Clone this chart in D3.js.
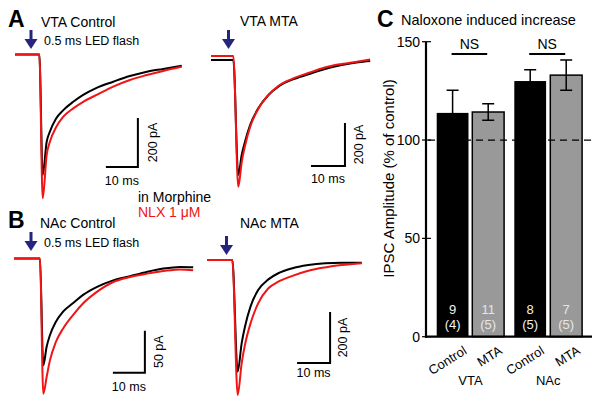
<!DOCTYPE html>
<html>
<head>
<meta charset="utf-8">
<script src="https://cdn.jsdelivr.net/npm/d3@7"></script>
<style>
  html, body { margin: 0; padding: 0; background: #fff; }
  svg { display: block; font-family: "Liberation Sans", Arial, Helvetica, sans-serif; }
</style>
</head>
<body>
<svg id="chart" width="601" height="407"></svg>
<script>
// ---------------- DATA ----------------
// Traces: time (ms) and current (pA); black = in Morphine, red = NLX 1 µM
const vtaCtrlTime     = [0, 7.6, 8.66, 9.9, 10.9, 12.8, 15.1, 18.2, 21.3, 25.5, 30.7, 35.9, 41.2, 46.3, 52.1];
const vtaCtrlMorphine = [0, 0, -492, -356, -315, -262, -227, -193, -165, -136, -111, -88, -70, -59, -46];
const vtaCtrlNLX      = [0, 0, -587, -410, -356, -298, -254, -220, -193, -165, -131, -104, -84, -67, -50];

const vtaMtaTime      = [0, 6.56, 8.03, 9.03, 10.0, 11.5, 13.9, 16.9, 19.8, 23.7, 28.6, 33.5, 38.4, 43.3, 46.8];
const vtaMtaMorphine  = [-9, -9, -544, -451, -389, -312, -234, -172, -133, -102, -76, -51, -33, -20, -14];
const vtaMtaNLX       = [9, 9, -599, -484, -409, -321, -237, -172, -130, -98, -70, -44, -28, -16, -7];

const nacCtrlTime     = [0, 8.1, 9.16, 10.2, 11.25, 13.0, 15.4, 18.5, 21.7, 25.8, 31.0, 36.25, 41.5, 46.7, 51.9, 56.0];
const nacCtrlMorphine = [0, 0, -127, -105, -91, -76, -63, -53, -43, -34, -26, -21, -16, -12, -10, -10.5];
const nacCtrlNLX      = [0, 0, -161, -141, -121, -100, -83, -67, -53, -40, -28, -22, -18, -15, -13, -14];

const nacMtaTime      = [0, 7.67, 9.3, 10.5, 11.5, 13.2, 15.5, 18.6, 21.6, 25.7, 30.7, 35.8, 40.8, 46.9];
const nacMtaMorphine  = [0, 0, -438, -327, -262, -182, -118, -76, -52, -33, -20, -13, -11, -11];
const nacMtaNLX       = [0, 0, -529, -405, -333, -248, -170, -111, -85, -63, -42, -29, -20, -13];

const traceTitles = ["VTA Control", "VTA MTA", "NAc Control", "NAc MTA"];
const scaleBarPA  = [200, 200, 50, 200];

// Panel C: bar chart
const barCategories = ["Control", "MTA", "Control", "MTA"];
const barRegions    = ["VTA", "NAc"];
const barMeans      = [113.8, 114.25, 130.0, 133.0];
const barErrors     = [11.5, 4.25, 5.8, 7.7];
const barN          = ["9", "11", "8", "7"];
const barAnimals    = ["(4)", "(5)", "(5)", "(5)"];
const yTicks        = [0, 50, 100, 150];

// ---------------- DRAW ----------------
const svg = d3.select("#chart");
const FONT = "14px";
const RED = "#f01414";
const NAVY = "#25257f";

// layout of each trace panel (pixel positions)
const panels = [
  {time: vtaCtrlTime, black: vtaCtrlMorphine, red: vtaCtrlNLX, x0: 15, pxMs: 3.2, y0: 54.5, pxPA: 0.245,
   barT: 38.4, barI: -459, titleX: 41, titleY: 27, arrowX: 31, arrowY: 30, flash: true, flashY: 45,
   tenY: 185, paX: 157},
  {time: vtaMtaTime, black: vtaMtaMorphine, red: vtaMtaNLX, x0: 211, pxMs: 3.4, y0: 58, pxPA: 0.215,
   barT: 39.4, barI: -502, titleX: 240, titleY: 26, arrowX: 228.5, arrowY: 30, flash: false,
   tenY: 182.5, paX: 363},
  {time: nacCtrlTime, black: nacCtrlMorphine, red: nacCtrlNLX, x0: 14, pxMs: 3.2, y0: 258.5, pxPA: 0.84,
   barT: 40.9, barI: -136, titleX: 40, titleY: 228, arrowX: 31, arrowY: 232, flash: true, flashY: 246.5,
   tenY: 391, paX: 163},
  {time: nacMtaTime, black: nacMtaMorphine, red: nacMtaNLX, x0: 207, pxMs: 3.3, y0: 260, pxPA: 0.255,
   barT: 37.3, barI: -404, titleX: 240, titleY: 228, arrowX: 226.5, arrowY: 236, flash: false,
   tenY: 377, paX: 346.5}
];

panels.forEach((p, i) => {
  const x = d3.scaleLinear().domain([0, 10]).range([p.x0, p.x0 + 10 * p.pxMs]);
  const y = d3.scaleLinear().domain([0, -100]).range([p.y0, p.y0 + 100 * p.pxPA]);
  const line = d3.line().x(d => x(d[0])).y(d => y(d[1])).curve(d3.curveMonotoneX);
  const g = svg.append("g");

  g.append("path").datum(p.time.map((t, k) => [t, p.black[k]]))
    .attr("d", line).attr("fill", "none").attr("stroke", "#000").attr("stroke-width", 2);
  g.append("path").datum(p.time.map((t, k) => [t, p.red[k]]))
    .attr("d", line).attr("fill", "none").attr("stroke", RED).attr("stroke-width", 2);

  // title
  g.append("text").attr("x", p.titleX).attr("y", p.titleY).attr("font-size", FONT).text(traceTitles[i]);
  if (p.flash) {
    g.append("text").attr("x", 44).attr("y", p.flashY).attr("font-size", "12.5px").text("0.5 ms LED flash");
  }
  // arrow
  const ax = p.arrowX, ay = p.arrowY;
  g.append("rect").attr("x", ax - 1.5).attr("y", ay).attr("width", 3).attr("height", 11).attr("fill", NAVY);
  g.append("path").attr("d", `M${ax - 6.5},${ay + 9} L${ax + 6.5},${ay + 9} L${ax},${ay + 19} Z`).attr("fill", NAVY);

  // scale bar
  const cx = x(p.barT), cy = y(p.barI);
  g.append("path")
    .attr("d", `M${x(p.barT - 10)},${cy} L${cx},${cy} L${cx},${y(p.barI + scaleBarPA[i])}`)
    .attr("fill", "none").attr("stroke", "#000").attr("stroke-width", 2);
  g.append("text").attr("x", (x(p.barT - 10) + cx) / 2).attr("y", p.tenY)
    .attr("text-anchor", "middle").attr("font-size", "12.5px").text("10 ms");
  const my = (cy + y(p.barI + scaleBarPA[i])) / 2;
  g.append("text").attr("transform", `translate(${p.paX},${my}) rotate(-90)`)
    .attr("text-anchor", "middle").attr("font-size", "12.5px").text(scaleBarPA[i] + " pA");
});

// legend
svg.append("text").attr("x", 138).attr("y", 202).attr("font-size", FONT).text("in Morphine");
svg.append("text").attr("x", 138).attr("y", 217).attr("font-size", FONT).attr("fill", RED).text("NLX 1 \u03BCM");

// panel letters
[["A", 8, 27], ["B", 8, 228], ["C", 377, 27]].forEach(([t, lx, ly]) => {
  svg.append("text").attr("x", lx).attr("y", ly).attr("font-size", "23px").attr("font-weight", "bold").text(t);
});

// ---------------- PANEL C ----------------
svg.append("text").attr("x", 401).attr("y", 25).attr("font-size", "14.5px").text("Naloxone induced increase");

const yC = d3.scaleLinear().domain([0, 150]).range([336.7, 41.7]);
const barLefts = [436.7, 472.3, 514.3, 550.3];
const barW = 31.8;
const xC = d3.scaleOrdinal().domain(d3.range(4)).range(barLefts);

const gC = svg.append("g");
barMeans.forEach((m, i) => {
  const gray = i % 2 === 1;
  gC.append("rect").attr("x", xC(i)).attr("y", yC(m)).attr("width", barW).attr("height", yC(0) - yC(m))
    .attr("fill", gray ? "#999999" : "#000").attr("stroke", "#000").attr("stroke-width", gray ? 1.5 : 0);
});
// dashed 100% line
gC.append("line").attr("x1", 428).attr("x2", 592).attr("y1", yC(100)).attr("y2", yC(100))
  .attr("stroke", "#000").attr("stroke-width", 1.3).attr("stroke-dasharray", "7,5");
// error bars
barMeans.forEach((m, i) => {
  const cx = xC(i) + barW / 2;
  const e = barErrors[i];
  gC.append("path")
    .attr("d", `M${cx},${yC(m - e)} L${cx},${yC(m + e)} M${cx - 6},${yC(m + e)} L${cx + 6},${yC(m + e)} M${cx - 6},${yC(m - e)} L${cx + 6},${yC(m - e)}`)
    .attr("stroke", "#000").attr("stroke-width", 1.5).attr("fill", "none");
  gC.append("text").attr("x", cx).attr("y", 314).attr("text-anchor", "middle").attr("font-size", "13px")
    .attr("fill", i % 2 ? "#e6e6e6" : "#f2f2f2").text(barN[i]);
  gC.append("text").attr("x", cx).attr("y", 329).attr("text-anchor", "middle").attr("font-size", "13px")
    .attr("fill", i % 2 ? "#e6e6e6" : "#f2f2f2").text(barAnimals[i]);
  gC.append("text").attr("transform", `translate(${cx + 15},${353}) rotate(-32)`)
    .attr("text-anchor", "end").attr("font-size", "13px").text(barCategories[i]);
});
// axes
const yAxis = d3.axisLeft(yC).tickValues(yTicks).tickSize(0).tickPadding(6);
const ax = gC.append("g").attr("transform", "translate(426,0)").call(yAxis);
ax.select(".domain").remove();
ax.selectAll("text").attr("font-size", FONT).attr("font-family", "Liberation Sans, Arial, sans-serif").attr("fill", "#000");
yTicks.forEach(t => {
  gC.append("line").attr("x1", 422).attr("x2", 431).attr("y1", yC(t)).attr("y2", yC(t)).attr("stroke", "#000").attr("stroke-width", 1.2);
});
gC.append("line").attr("x1", 426).attr("x2", 426).attr("y1", yC(150)).attr("y2", yC(0) + 1).attr("stroke", "#000").attr("stroke-width", 2.2);
gC.append("line").attr("x1", 425).attr("x2", 592).attr("y1", yC(0)).attr("y2", yC(0)).attr("stroke", "#000").attr("stroke-width", 2.2);

// y label
svg.append("text").attr("transform", `translate(394,178.5) rotate(-90)`).attr("text-anchor", "middle")
  .attr("font-size", "15px").text("IPSC Amplitude (% of control)");

// region labels
barRegions.forEach((r, k) => {
  const cx = (xC(2 * k) + xC(2 * k + 1) + barW) / 2;
  svg.append("text").attr("x", cx).attr("y", 385).attr("text-anchor", "middle").attr("font-size", "13px").text(r);
  // NS brackets
  svg.append("line").attr("x1", xC(2 * k) + barW / 2 - 1).attr("x2", xC(2 * k + 1) + barW / 2 - 1)
    .attr("y1", 54).attr("y2", 54).attr("stroke", "#000").attr("stroke-width", 2);
  svg.append("text").attr("x", (xC(2 * k) + xC(2 * k + 1) + barW) / 2 - 1).attr("y", 49)
    .attr("text-anchor", "middle").attr("font-size", FONT).text("NS");
});
</script>
</body>
</html>
